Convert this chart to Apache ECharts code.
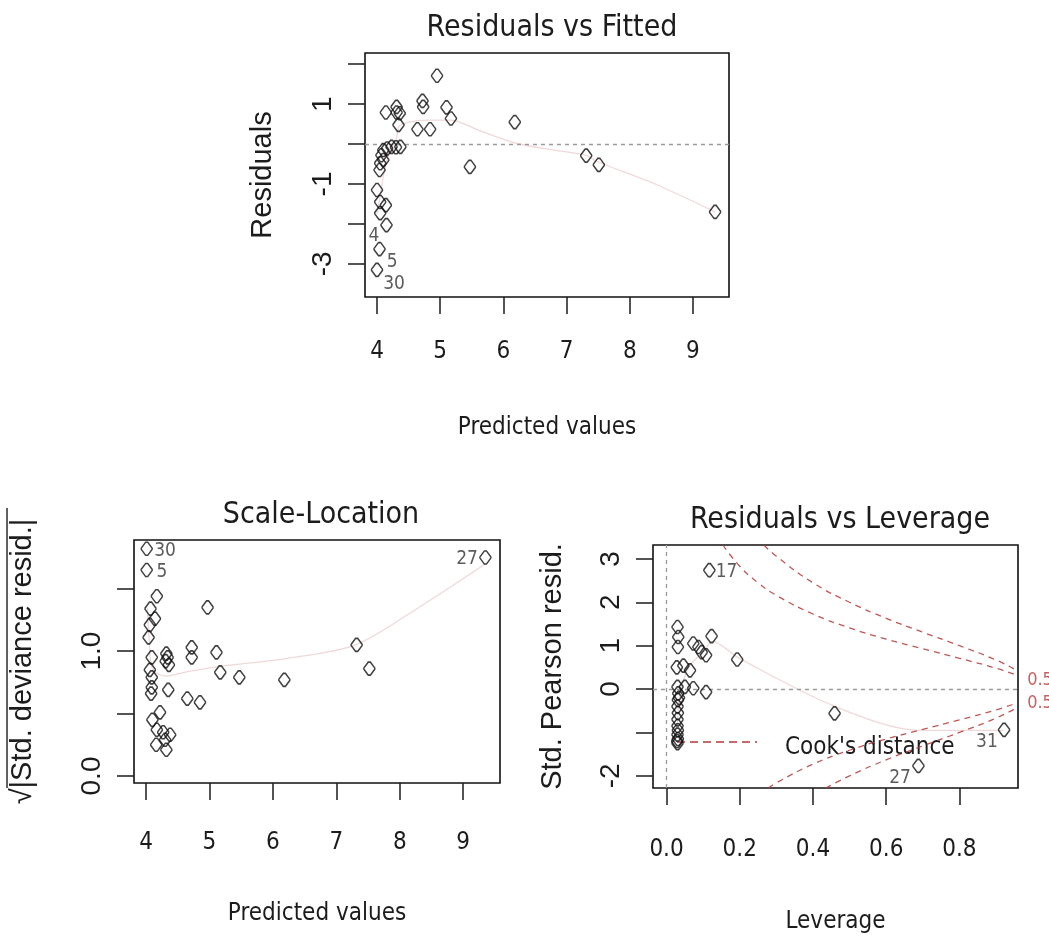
<!DOCTYPE html>
<html>
<head>
<meta charset="utf-8">
<script src="https://cdn.jsdelivr.net/npm/echarts@6/dist/echarts.min.js"></script>
<style>
  html, body { margin: 0; padding: 0; background: #ffffff; }
  #chart { width: 1049px; height: 942px; }
</style>
</head>
<body>
<div id="chart"></div>
<script>
// ---------- Residuals vs Fitted ----------
const fittedTicks = [4, 5, 6, 7, 8, 9];
const residTicks = [-3, -2, -1, 0, 1, 2];
const residTickLabels = [-3, -1, 1];
const rvfFitted = [4.95, 4.72, 4.73, 5.10, 5.17, 4.64, 4.84, 4.14, 4.31, 4.31, 4.36, 4.34,
  5.47, 6.18, 7.31, 7.51, 9.35, 4.37, 4.30, 4.23, 4.16, 4.10, 4.07, 4.05, 4.04, 4.10,
  4.00, 4.05, 4.14, 4.05, 4.15, 4.04, 4.00];
const rvfResid = [1.71, 1.08, 0.93, 0.92, 0.64, 0.37, 0.37, 0.79, 0.93, 0.79, 0.77, 0.48,
  -0.57, 0.55, -0.29, -0.52, -1.70, -0.07, -0.08, -0.07, -0.11, -0.15, -0.28, -0.48, -0.65, -0.40,
  -1.15, -1.45, -1.53, -1.73, -2.03, -2.63, -3.15];
const rvfSmoothX = [4.00, 4.05, 4.10, 4.15, 4.20, 4.30, 4.35, 4.50, 4.80, 5.17, 5.60, 6.20, 6.80, 7.30, 7.50, 8.40, 9.35];
const rvfSmoothY = [-1.75, -1.30, -0.80, -0.45, -0.20, 0.10, 0.45, 0.55, 0.60, 0.60, 0.35, 0.02, -0.15, -0.28, -0.45, -1.00, -1.70];
const rvfIds = ['4', '5', '30'];
const rvfIdX = [3.95, 4.24, 4.27];
const rvfIdY = [-2.30, -2.95, -3.50];

// ---------- Scale-Location ----------
const rootTicks = [0, 0.5, 1, 1.5];
const rootTickLabels = [0, 1];
const slFitted = [4.01, 4.01, 4.17, 4.97, 4.07, 4.14, 4.06, 4.04, 4.72, 4.72, 5.11, 4.32, 4.34,
  4.31, 4.36, 4.09, 4.06, 4.09, 5.17, 5.47, 6.18, 4.35, 4.09, 4.08, 4.65, 4.85, 4.22, 4.10,
  4.17, 4.27, 4.38, 4.30, 4.16, 4.32, 9.35, 7.32, 7.52];
const slRoot = [1.82, 1.65, 1.44, 1.35, 1.34, 1.26, 1.21, 1.11, 1.03, 0.95, 0.99, 0.98, 0.95,
  0.92, 0.89, 0.95, 0.85, 0.79, 0.83, 0.79, 0.77, 0.69, 0.71, 0.66, 0.62, 0.59, 0.51, 0.45,
  0.37, 0.35, 0.33, 0.29, 0.25, 0.21, 1.75, 1.05, 0.86];
const slSmoothX = [4.02, 4.05, 4.10, 4.30, 4.70, 5.20, 6.20, 7.30, 8.30, 9.35];
const slSmoothY = [1.35, 1.10, 0.86, 0.80, 0.84, 0.88, 0.94, 1.05, 1.35, 1.70];
const slIds = ['30', '5', '27'];
const slIdX = [4.30, 4.25, 9.06];
const slIdY = [1.80, 1.63, 1.74];

// ---------- Residuals vs Leverage ----------
const levTicks = [0, 0.2, 0.4, 0.6, 0.8];
const pearsonTicks = [-2, -1, 0, 1, 2, 3];
const pearsonTickLabels = [-2, 0, 1, 2, 3];
const levH = [0.117, 0.030, 0.032, 0.031, 0.123, 0.073, 0.087, 0.096, 0.108, 0.193, 0.028,
  0.046, 0.064, 0.073, 0.108, 0.459, 0.922, 0.688, 0.030, 0.032, 0.031, 0.030, 0.031, 0.030,
  0.030, 0.031, 0.030, 0.031, 0.030, 0.029, 0.034, 0.050];
const levR = [2.74, 1.43, 1.20, 0.97, 1.22, 1.05, 0.97, 0.85, 0.78, 0.68, 0.50,
  0.54, 0.43, 0.02, -0.07, -0.56, -0.94, -1.77, 0.05, -0.10, -0.25, -0.40, -0.55, -0.70,
  -0.85, -0.95, -1.05, -1.15, -1.25, -1.20, -0.20, 0.05];
const levSmoothX = [0.030, 0.035, 0.060, 0.100, 0.125, 0.200, 0.460, 0.690, 0.920];
const levSmoothY = [-0.90, -0.20, 0.50, 0.85, 1.10, 0.70, -0.40, -0.95, -0.95];
const levIds = ['17', '31', '27'];
const levIdX = [0.164, 0.875, 0.638];
const levIdY = [2.70, -1.23, -2.04];
// Cook's distance contours (levels 0.5 and 1), upper and lower branches
const cookUp05H = [0.154, 0.20, 0.25, 0.30, 0.40, 0.50, 0.60, 0.70, 0.80, 0.90, 0.95];
const cookUp05R = [3.32, 2.83, 2.45, 2.16, 1.73, 1.41, 1.15, 0.93, 0.71, 0.48, 0.34];
const cookUp1H = [0.266, 0.30, 0.40, 0.50, 0.60, 0.70, 0.80, 0.90, 0.95];
const cookUp1R = [3.32, 3.06, 2.45, 2.00, 1.63, 1.31, 1.00, 0.67, 0.46];
const cookLo05H = [0.278, 0.30, 0.40, 0.50, 0.60, 0.70, 0.80, 0.90, 0.95];
const cookLo05R = [-2.28, -2.16, -1.73, -1.41, -1.15, -0.93, -0.71, -0.48, -0.34];
const cookLo1H = [0.435, 0.50, 0.60, 0.70, 0.80, 0.90, 0.95];
const cookLo1R = [-2.28, -2.00, -1.63, -1.31, -1.00, -0.67, -0.46];
const cookLevelLabels = ['0.5', '0.5'];
const cookLabelH = [0.985, 0.985];
const cookLabelR = [0.20, -0.34];

// ---------- styling ----------
const FONT_N = "'Liberation Sans Narrow','Arial Narrow','DejaVu Sans Condensed',sans-serif";
const FONT_R = "'Liberation Sans',Arial,sans-serif";
const INK = '#1c1c1c';
const RED = '#b33b3b';
const POINT = 'path://M4,0 L6,0 L10,5.5 L10,6.5 L6,12 L4,12 L0,6.5 L0,5.5 Z';

const zip = (xs, ys) => xs.map((x, i) => [x, ys[i]]);

function xAxis(gi, min, max, ticks, fmt, labelMargin, name, nameGap) {
  return {
    type: 'value', gridIndex: gi, min, max,
    axisLine: { show: false, onZero: false },
    splitLine: { show: false },
    axisTick: { show: true, length: 17, customValues: ticks, lineStyle: { color: INK, width: 1.5 } },
    axisLabel: { customValues: ticks, formatter: fmt, margin: labelMargin,
      fontFamily: FONT_N, fontSize: 24, color: INK },
    name, nameLocation: 'middle', nameGap,
    nameTextStyle: { fontFamily: FONT_N, fontSize: 24, color: INK }
  };
}
function yAxis(gi, min, max, ticks, labels, fmt, name, nameGap) {
  return {
    type: 'value', gridIndex: gi, min, max,
    axisLine: { show: false, onZero: false },
    splitLine: { show: false },
    axisTick: { show: true, length: 17, customValues: ticks, lineStyle: { color: INK, width: 1.5 } },
    axisLabel: { customValues: labels, formatter: fmt, rotate: 90, margin: 28,
      fontFamily: FONT_R, fontSize: 28, color: INK },
    name, nameLocation: 'middle', nameGap, nameRotate: 90,
    nameTextStyle: { fontFamily: FONT_R, fontSize: 29, color: INK }
  };
}
function points(xi, xs, ys) {
  return {
    type: 'scatter', xAxisIndex: xi, yAxisIndex: xi, data: zip(xs, ys),
    symbol: POINT, symbolSize: [11, 13], symbolKeepAspect: false,
    itemStyle: { color: 'none', borderColor: '#111', borderWidth: 1.5 },
    silent: true, z: 5
  };
}
function smoother(xi, xs, ys) {
  return {
    type: 'line', xAxisIndex: xi, yAxisIndex: xi, data: zip(xs, ys),
    showSymbol: false, smooth: 0.3, silent: true, z: 4,
    lineStyle: { color: RED, width: 1.3, opacity: 0.2 }
  };
}
function ids(xi, xs, ys, texts, size) {
  return {
    type: 'scatter', xAxisIndex: xi, yAxisIndex: xi, symbolSize: 0, silent: true, clip: false, z: 6,
    data: xs.map((x, i) => ({ value: [x, ys[i]], name: texts[i] })),
    label: { show: true, position: 'inside', formatter: p => p.name,
      fontFamily: FONT_N, fontSize: size, color: '#333' }
  };
}
function cook(xs, ys) {
  return {
    type: 'line', xAxisIndex: 2, yAxisIndex: 2, data: zip(xs, ys),
    showSymbol: false, smooth: true, silent: true, z: 3,
    lineStyle: { color: RED, width: 1.3, type: [6, 5], opacity: 0.85 }
  };
}
const zeroLine = (lines) => ({
  silent: true, symbol: 'none', label: { show: false },
  lineStyle: { color: '#9a9a9a', width: 1.3, type: [4, 4] },
  data: lines
});

const titleStyle = { fontFamily: FONT_N, fontSize: 30, fontWeight: 'normal', color: INK };
const gridBox = { show: true, borderColor: '#111', borderWidth: 1.6, backgroundColor: 'transparent', containLabel: false };

const option = {
  backgroundColor: '#ffffff',
  animation: false,
  title: [
    { text: 'Residuals vs Fitted', left: 547, top: 8, textAlign: 'center', textStyle: titleStyle },
    { text: 'Scale-Location', left: 316, top: 495, textAlign: 'center', textStyle: titleStyle },
    { text: 'Residuals vs Leverage', left: 835, top: 500, textAlign: 'center', textStyle: titleStyle }
  ],
  grid: [
    Object.assign({ left: 365, top: 53, width: 364, height: 244 }, gridBox),
    Object.assign({ left: 134, top: 540, width: 366, height: 243 }, gridBox),
    Object.assign({ left: 653, top: 545, width: 365, height: 243 }, gridBox)
  ],
  xAxis: [
    xAxis(0, 3.81, 9.57, fittedTicks, v => String(v), 43, 'Predicted values', 119),
    xAxis(1, 3.81, 9.58, fittedTicks, v => String(v), 48, 'Predicted values', 119),
    xAxis(2, -0.037, 0.96, levTicks, v => v.toFixed(1), 50, 'Leverage', 122)
  ],
  yAxis: [
    yAxis(0, -3.83, 2.28, residTicks, residTickLabels, v => String(v), 'Residuals', 88),
    yAxis(1, -0.056, 1.89, rootTicks, rootTickLabels, v => v.toFixed(1), '\u221A|Std. deviance resid.|', 97),
    yAxis(2, -2.28, 3.32, pearsonTicks, pearsonTickLabels, v => String(v), 'Std. Pearson resid.', 86)
  ],
  series: [
    Object.assign(points(0, rvfFitted, rvfResid), { markLine: zeroLine([{ yAxis: 0 }]) }),
    smoother(0, rvfSmoothX, rvfSmoothY),
    ids(0, rvfIdX, rvfIdY, rvfIds, 19),

    points(1, slFitted, slRoot),
    smoother(1, slSmoothX, slSmoothY),
    ids(1, slIdX, slIdY, slIds, 19),

    Object.assign(points(2, levH, levR), { markLine: zeroLine([{ yAxis: 0 }, { xAxis: 0 }]) }),
    smoother(2, levSmoothX, levSmoothY),
    ids(2, levIdX, levIdY, levIds, 19),
    cook(cookUp05H, cookUp05R),
    cook(cookUp1H, cookUp1R),
    cook(cookLo05H, cookLo05R),
    cook(cookLo1H, cookLo1R),
    {
      type: 'scatter', xAxisIndex: 2, yAxisIndex: 2, symbolSize: 0, silent: true, clip: false, z: 6,
      data: cookLabelH.map((h, i) => ({ value: [h, cookLabelR[i]], name: cookLevelLabels[i] })),
      label: { show: true, position: 'right', distance: 0, formatter: p => p.name,
        fontFamily: FONT_N, fontSize: 18, color: RED }
    }
  ],
  graphic: [
    // Cook's distance key, bottom-left of the leverage panel
    { type: 'line', shape: { x1: 677, y1: 742, x2: 757, y2: 742 }, silent: true,
      style: { stroke: RED, lineWidth: 1.6, lineDash: [8, 5] } },
    { type: 'text', x: 785, y: 748, silent: true,
      style: { text: "Cook's distance", fontFamily: FONT_N, fontSize: 24, fill: INK, verticalAlign: 'middle' } },
    // overbar of the square-root sign on the Scale-Location y title
    { type: 'line', shape: { x1: 7, y1: 508, x2: 7, y2: 788 }, silent: true,
      style: { stroke: INK, lineWidth: 1.4 } }
  ]
};

const chart = echarts.init(document.getElementById('chart'));
chart.setOption(option);
</script>
</body>
</html>
